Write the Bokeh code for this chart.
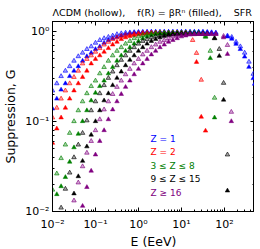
from bokeh.plotting import figure
from bokeh.models import LogAxis, LogTicker, CustomJSTickFormatter, Label, Range1d
from bokeh.embed import file_html
from bokeh.resources import INLINE

# log10(E/EeV) grid of the simulated energies
LOG_E_GRID = [-2.0, -1.9, -1.8, -1.7, -1.6, -1.5, -1.4, -1.3, -1.2, -1.1,
              -1.0, -0.9, -0.8, -0.7, -0.6, -0.5, -0.4, -0.3, -0.2, -0.1,
              0.0, 0.1, 0.2, 0.3, 0.4, 0.5, 0.6, 0.7, 0.8, 0.9,
              1.0, 1.1, 1.2, 1.3, 1.4, 1.5, 1.6, 1.7, 1.8]

# Z = 1
BLUE_H_START = 0
BLUE_H = [0.219, 0.263, 0.316, 0.363, 0.407, 0.468, 0.525, 0.575, 0.631, 0.676,
          0.741, 0.794, 0.832, 0.861, 0.891, 0.923, 0.944, 0.959, 0.966, 0.973,
          0.977, 0.979, 0.98, 0.98, 0.98, 0.98, 0.98, 0.98, 0.98, 0.98,
          0.98, 0.98, 0.98, 0.98, 0.98, 0.98, 0.975, 0.97, 0.96]
BLUE_H_TAIL_LOGE = [2.07, 2.17, 2.27, 2.37, 2.47, 2.57, 2.67]
BLUE_H_TAIL = [0.89, 0.86, 0.76, 0.676, 0.575, 0.457, 0.335]
BLUE_F_START = 0
BLUE_F = [0.138, 0.178, 0.224, 0.263, 0.316, 0.363, 0.407, 0.468, 0.525, 0.575,
          0.631, 0.676, 0.741, 0.794, 0.832, 0.861, 0.891, 0.923, 0.944, 0.959,
          0.966, 0.973, 0.977, 0.978, 0.978, 0.978, 0.978, 0.978, 0.978, 0.978,
          0.978, 0.978, 0.978, 0.978, 0.978, 0.975, 0.97, 0.96, 0.95]
BLUE_F_TAIL_LOGE = [2.07, 2.17, 2.27, 2.37, 2.47, 2.57, 2.67, 2.70]
BLUE_F_TAIL = [0.87, 0.82, 0.72, 0.63, 0.52, 0.40, 0.30, 0.26]

# Z = 2
RED_H_START = 0
RED_H = [0.110, 0.141, 0.178, 0.219, 0.263, 0.309, 0.363, 0.437, 0.490, 0.537,
         0.589, 0.646, 0.708, 0.759, 0.813, 0.851, 0.881, 0.902, 0.923, 0.933,
         0.944, 0.955, 0.96, 0.96, 0.96, 0.96, 0.96, 0.96, 0.96, 0.96,
         0.96, 0.96, 0.95]
RED_H_TAIL_LOGE = [1.26, 1.35, 1.46]
RED_H_TAIL = [0.794, 0.571, 0.288]
RED_F_START = 0
RED_F = [0.0575, 0.083, 0.110, 0.141, 0.178, 0.219, 0.263, 0.309, 0.363, 0.437,
         0.490, 0.537, 0.589, 0.646, 0.708, 0.759, 0.813, 0.851, 0.881, 0.902,
         0.923, 0.933, 0.944, 0.955, 0.96, 0.96, 0.96, 0.96, 0.96, 0.96,
         0.96, 0.96, 0.94]
RED_F_TAIL_LOGE = [1.35, 1.46, 1.56]
RED_F_TAIL = [0.454, 0.112, 0.0785]

# 3 <= Z <= 8
GREEN_H_START = 0
GREEN_H = [0.0174, 0.0263, 0.0389, 0.0550, 0.0741, 0.100, 0.132, 0.166, 0.204, 0.245,
           0.282, 0.339, 0.398, 0.468, 0.537, 0.603, 0.661, 0.724, 0.776, 0.832,
           0.871, 0.902, 0.923, 0.938, 0.95, 0.955, 0.955, 0.955, 0.955, 0.955,
           0.955, 0.955, 0.955, 0.955, 0.955, 0.945]
GREEN_H_TAIL_LOGE = [1.56, 1.67, 1.77]
GREEN_H_TAIL = [0.881, 0.603, 0.182]
GREEN_F_START = 1
GREEN_F = [0.0155, 0.019, 0.0240, 0.0355, 0.0513, 0.0724, 0.100, 0.132, 0.170, 0.207,
           0.245, 0.282, 0.339, 0.398, 0.468, 0.537, 0.603, 0.661, 0.724, 0.776,
           0.832, 0.871, 0.902, 0.923, 0.938, 0.95, 0.95, 0.95, 0.95, 0.95,
           0.95, 0.95, 0.95, 0.95, 0.94]
GREEN_F_TAIL_LOGE = [1.56, 1.67, 1.77]
GREEN_F_TAIL = [0.861, 0.501, 0.110]

# 9 <= Z <= 15
BLACK_H_START = 2
BLACK_H = [0.0110, 0.0178, 0.0269, 0.0398, 0.0550, 0.0741, 0.102, 0.132, 0.166, 0.204,
           0.251, 0.302, 0.355, 0.417, 0.479, 0.537, 0.603, 0.661, 0.724, 0.776,
           0.813, 0.851, 0.881, 0.902, 0.912, 0.923, 0.933, 0.935, 0.935, 0.935,
           0.935, 0.935, 0.935, 0.935, 0.935]
BLACK_H_TAIL_LOGE = [1.77, 1.88, 1.98, 2.07]
BLACK_H_TAIL = [0.838, 0.632, 0.266, 0.0427]
BLACK_F_START = 5
BLACK_F = [0.0158, 0.0245, 0.0363, 0.0525, 0.0708, 0.100, 0.132, 0.170, 0.204, 0.251,
           0.302, 0.355, 0.417, 0.479, 0.537, 0.603, 0.661, 0.724, 0.776, 0.813,
           0.851, 0.881, 0.902, 0.912, 0.923, 0.93, 0.93, 0.93, 0.93, 0.93,
           0.93, 0.93]
BLACK_F_TAIL_LOGE = [1.77, 1.88, 1.98, 2.07]
BLACK_F_TAIL = [0.83, 0.530, 0.173, 0.0170]

# Z >= 16
PURPLE_H_START = 5
PURPLE_H = [0.0132, 0.0209, 0.0316, 0.0447, 0.0603, 0.0794, 0.105, 0.135, 0.166, 0.200,
            0.240, 0.282, 0.331, 0.380, 0.437, 0.490, 0.550, 0.603, 0.661, 0.708,
            0.759, 0.794, 0.832, 0.871, 0.891, 0.912, 0.92, 0.93, 0.93, 0.93,
            0.93, 0.93, 0.93, 0.93]
PURPLE_H_TAIL_LOGE = [1.98, 2.07, 2.16]
PURPLE_H_TAIL = [0.881, 0.70, 0.127]
PURPLE_F_START = 7
PURPLE_F = [0.0115, 0.0186, 0.0282, 0.0427, 0.0603, 0.0794, 0.105, 0.135, 0.166, 0.200,
            0.240, 0.282, 0.331, 0.380, 0.437, 0.490, 0.550, 0.603, 0.661, 0.708,
            0.759, 0.794, 0.832, 0.871, 0.891, 0.912, 0.92, 0.925, 0.925, 0.925,
            0.925, 0.925]
PURPLE_F_TAIL_LOGE = [1.98, 2.07, 2.16]
PURPLE_F_TAIL = [0.85, 0.557, 0.100]

LEGEND_LABELS = ["Z = 1", "Z = 2", "3 ≤ Z ≤ 8", "9 ≤ Z ≤ 15", "Z ≥ 16"]
COLORS = ["#0000ff", "#ff0000", "#008000", "#000000", "#800080"]

SERIES = [
    (COLORS[0], BLUE_H_START, BLUE_H, BLUE_H_TAIL_LOGE, BLUE_H_TAIL,
     BLUE_F_START, BLUE_F, BLUE_F_TAIL_LOGE, BLUE_F_TAIL),
    (COLORS[1], RED_H_START, RED_H, RED_H_TAIL_LOGE, RED_H_TAIL,
     RED_F_START, RED_F, RED_F_TAIL_LOGE, RED_F_TAIL),
    (COLORS[2], GREEN_H_START, GREEN_H, GREEN_H_TAIL_LOGE, GREEN_H_TAIL,
     GREEN_F_START, GREEN_F, GREEN_F_TAIL_LOGE, GREEN_F_TAIL),
    (COLORS[3], BLACK_H_START, BLACK_H, BLACK_H_TAIL_LOGE, BLACK_H_TAIL,
     BLACK_F_START, BLACK_F, BLACK_F_TAIL_LOGE, BLACK_F_TAIL),
    (COLORS[4], PURPLE_H_START, PURPLE_H, PURPLE_H_TAIL_LOGE, PURPLE_H_TAIL,
     PURPLE_F_START, PURPLE_F, PURPLE_F_TAIL_LOGE, PURPLE_F_TAIL),
]

FONT = "DejaVu Sans"
NB = "\u00a0"

p = figure(frame_width=202, frame_height=190, x_axis_type="log", y_axis_type="log",
           x_range=Range1d(0.01, 500), y_range=Range1d(0.01, 1.28),
           output_backend="svg", toolbar_location=None,
           min_border_left=0, min_border_right=0, min_border_top=0, min_border_bottom=0,
           title="ΛCDM (hollow)," + NB * 4 + "f(R) = βRⁿ (filled)," + NB * 4 + "SFR")
p.title.text_font = FONT
p.title.text_font_size = "9.5px"
p.title.text_font_style = "normal"
p.title.text_color = "black"
p.title.align = "left"
p.title.offset = 0
p.title.standoff = 8
p.outline_line_color = "black"
p.outline_line_width = 1
p.background_fill_color = "white"
p.border_fill_color = "white"
p.grid.visible = False

sup_code = """
const e = Math.round(Math.log10(tick));
const m = {'-':'\\u207b','0':'\\u2070','1':'\\u00b9','2':'\\u00b2','3':'\\u00b3'};
return '10' + String(e).split('').map(c => m[c]).join('');
"""

for ax in [p.xaxis[0], p.yaxis[0]]:
    ax.formatter = CustomJSTickFormatter(code=sup_code)
    ax.major_tick_in = 4
    ax.major_tick_out = 0
    ax.minor_tick_in = 2
    ax.minor_tick_out = 0
    ax.major_label_text_font = FONT
    ax.major_label_text_font_size = "11px"
    ax.major_label_text_color = "black"
    ax.axis_label_text_font = FONT
    ax.axis_label_text_font_size = "12.5px"
    ax.axis_label_text_font_style = "normal"
    ax.axis_label_text_color = "black"
    ax.axis_line_color = "black"
    ax.major_tick_line_color = "black"
    ax.minor_tick_line_color = "black"

p.xaxis[0].axis_label = "E (EeV)"
p.yaxis[0].axis_label = "Suppression, G"
p.xaxis[0].major_label_standoff = 6
p.xaxis[0].axis_label_standoff = 0
p.yaxis[0].major_label_standoff = 3
p.yaxis[0].axis_label_standoff = 4

right = LogAxis(ticker=LogTicker())
above = LogAxis(ticker=LogTicker())
for ax in [right, above]:
    ax.major_label_text_font_size = "1px"
    ax.major_label_text_alpha = 0
    ax.major_label_standoff = 0
    ax.major_tick_in = 4
    ax.major_tick_out = 0
    ax.minor_tick_in = 2
    ax.minor_tick_out = 0
    ax.axis_line_color = "black"
    ax.major_tick_line_color = "black"
    ax.minor_tick_line_color = "black"
p.add_layout(right, "right")
p.add_layout(above, "above")

for (color, h_start, h_vals, h_tl, h_tv, f_start, f_vals, f_tl, f_tv) in SERIES:
    hx = [10 ** v for v in LOG_E_GRID[h_start:h_start + len(h_vals)] + h_tl]
    hy = h_vals + h_tv
    fx = [10 ** v for v in LOG_E_GRID[f_start:f_start + len(f_vals)] + f_tl]
    fy = f_vals + f_tv
    p.scatter(hx, hy, marker="triangle", size=4.5, line_color=color, line_alpha=0.8,
              fill_color=color, fill_alpha=0.35, line_width=0.8)
    p.scatter(fx, fy, marker="triangle", size=4.5, line_color=color,
              fill_color=color, line_width=0.5)

legend_y = [73, 59.5, 46, 32.5, 18.5]
for txt, col, yy in zip(LEGEND_LABELS, COLORS, legend_y):
    p.add_layout(Label(x=98, y=yy, x_units="screen", y_units="screen", text=txt,
                       text_color=col, text_font=FONT, text_font_size="9px",
                       text_baseline="middle"))

open("out.html", "w").write(file_html(p, INLINE))
